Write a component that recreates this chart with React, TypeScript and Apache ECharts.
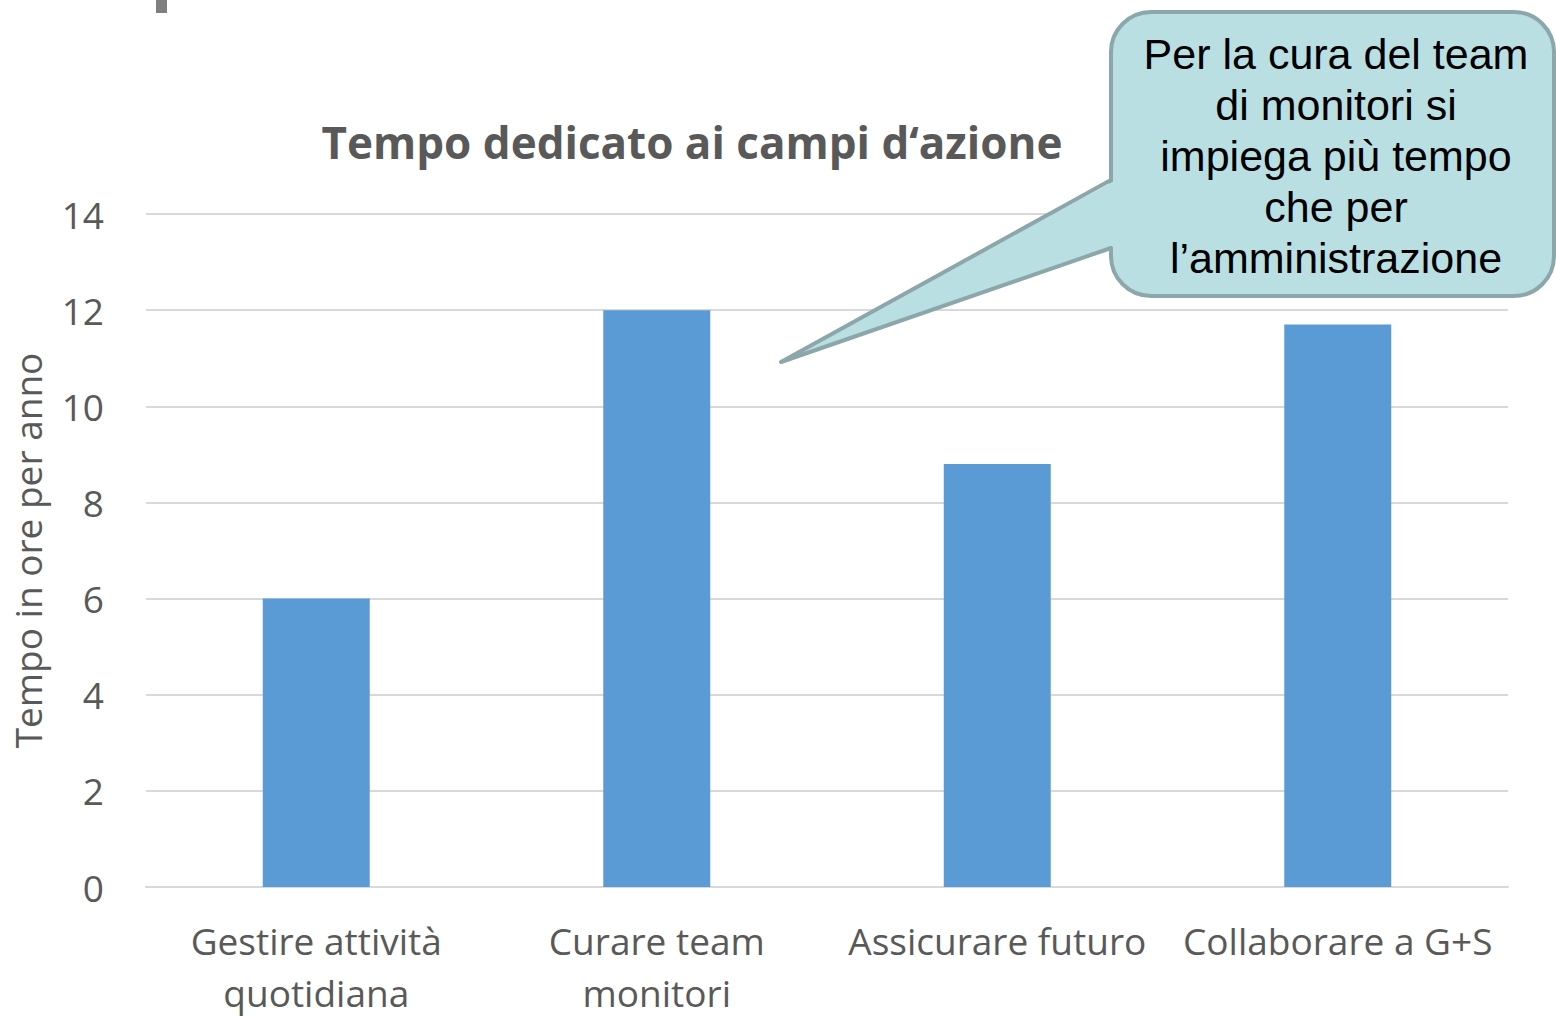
import React, { useEffect, useRef } from "react";
import * as echarts from "echarts";

const categories = ["Gestire attività\nquotidiana", "Curare team\nmonitori", "Assicurare futuro", "Collaborare a G+S"];
const values = [6, 12, 8.8, 11.7];
const yTicks = { min: 0, max: 14, interval: 2 };
const titleText = "Tempo dedicato ai campi d‘azione";
const yAxisName = "Tempo in ore per anno";
const calloutLines = ["Per la cura del team", "di monitori si", "impiega più tempo", "che per", "l’amministrazione"];

export default function App() {
  const ref = useRef<HTMLDivElement>(null);
  useEffect(() => {
    if (!ref.current) return;
    const chart = echarts.init(ref.current, null, { renderer: "svg" });
    const font = "'Open Sans', sans-serif";
    const tailFill = "#B9DFE3";
    const tailStroke = "#8CA7AA";
    chart.setOption({
      animation: false,
      backgroundColor: "#ffffff",
      grid: { left: 146, width: 1362, top: 214, height: 678 },
      xAxis: {
        type: "category",
        data: categories,
        axisLine: { show: true, lineStyle: { color: "#d9d9d9", width: 2 } },
        axisTick: { show: false },
        axisLabel: {
          interval: 0,
          fontSize: 37,
          lineHeight: 52,
          color: "#595959",
          fontFamily: font,
          margin: 27,
        },
      },
      yAxis: {
        type: "value",
        min: yTicks.min,
        max: yTicks.max,
        interval: yTicks.interval,
        name: yAxisName,
        nameLocation: "middle",
        nameGap: 100,
        nameRotate: 90,
        nameTextStyle: { fontSize: 37, color: "#595959", fontFamily: font },
        axisLine: { show: false },
        axisTick: { show: false },
        splitLine: { lineStyle: { color: "#d9d9d9", width: 2 } },
        axisLabel: { fontSize: 37, color: "#595959", fontFamily: font, margin: 42 },
      },
      series: [
        {
          type: "bar",
          data: values,
          barWidth: 107,
          itemStyle: { color: "#5B9BD5" },
        },
      ],
      graphic: [
        {
          type: "rect",
          z: 100,
          shape: { x: 156, y: 0, width: 11, height: 13 },
          style: { fill: "#7f7f7f" },
        },
        {
          type: "text",
          z: 100,
          x: 692,
          y: 142,
          style: {
            text: titleText,
            font: "bold 44px 'Open Sans', sans-serif",
            fill: "#595959",
            align: "center",
            verticalAlign: "middle",
          },
        },
        {
          type: "rect",
          z: 100,
          shape: { x: 1111, y: 12, width: 443, height: 284, r: 40 },
          style: { fill: tailFill, stroke: tailStroke, lineWidth: 4 },
        },
        {
          type: "polygon",
          z: 101,
          shape: { points: [[1116, 180], [781, 362], [1116, 248]] },
          style: { fill: tailFill },
        },
        {
          type: "polyline",
          z: 102,
          shape: { points: [[1111, 180], [781, 362], [1111, 248]] },
          style: { fill: null, stroke: tailStroke, lineWidth: 4, lineJoin: "round", lineCap: "round" },
        },
        {
          type: "text",
          z: 103,
          x: 1336,
          y: 156,
          style: {
            text: calloutLines.join("\n"),
            font: "43px 'Liberation Sans', Arial, sans-serif",
            lineHeight: 51,
            fill: "#000000",
            align: "center",
            verticalAlign: "middle",
          },
        },
      ],
    });
    return () => chart.dispose();
  }, []);
  return <div ref={ref} style={{ position: "fixed", left: 0, top: 0, width: 1556, height: 1018 }} />;
}
